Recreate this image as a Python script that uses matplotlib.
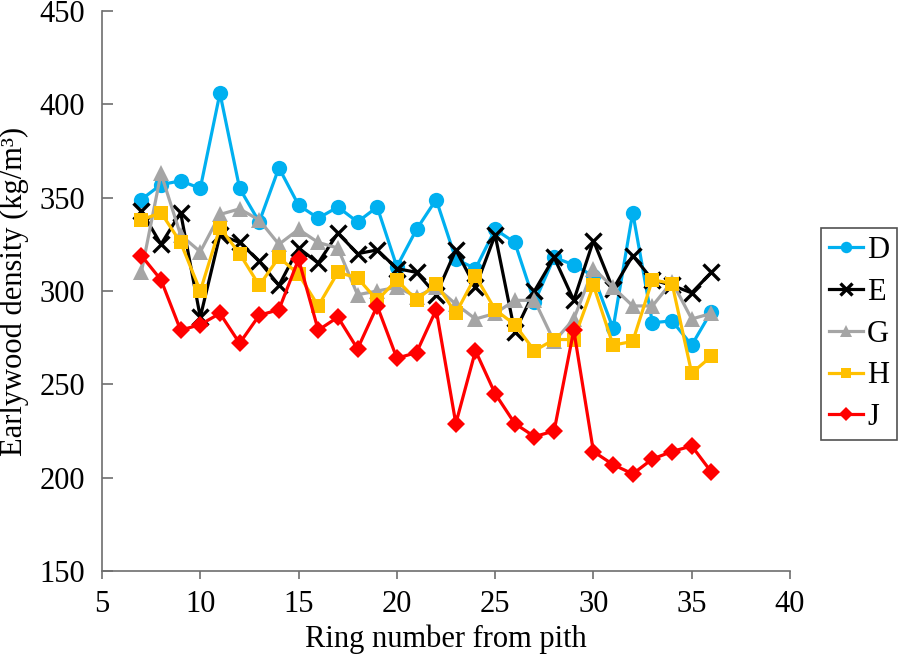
import matplotlib
matplotlib.use("Agg")
import matplotlib.pyplot as plt

rings = list(range(7, 37))
D = [349, 357, 359, 355, 406, 355, 337, 366, 346, 339, 345, 337, 345, 313, 333, 349,
     317, 312, 333, 326, 294, 318, 314, 308, 280, 342, 283, 284, 271, 289]
E = [343, 325, 342, 286, 330, 326, 316, 303, 323, 315, 331, 320, 322, 312, 310, 298,
     322, 302, 330, 278, 300, 318, 295, 327, 301, 319, 306, 303, 299, 310]
G = [310, 363, 330, 321, 341, 344, 338, 325, 333, 326, 323, 298, 300, 302, 297, 302,
     293, 285, 288, 295, 295, 273, 285, 312, 302, 292, 292, 305, 285, 288]
H = [338, 342, 326, 300, 334, 320, 303, 318, 309, 292, 310, 307, 295, 306, 295, 304,
     288, 308, 290, 282, 268, 274, 274, 303, 271, 273, 306, 304, 256, 265]
J = [319, 306, 279, 282, 288, 272, 287, 290, 317, 279, 286, 269, 292, 264, 267, 290,
     229, 268, 245, 229, 222, 225, 279, 214, 207, 202, 210, 214, 217, 203]

series = [
    ("D", D, "#00B0F0", "o", 11),
    ("E", E, "#000000", "x", 12),
    ("G", G, "#A5A5A5", "^", 11),
    ("H", H, "#FFC000", "s", 10),
    ("J", J, "#FF0000", "D", 9),
]

plt.rcParams['font.family'] = ['Liberation Serif', 'DejaVu Serif']

fig = plt.figure(figsize=(8.98, 6.57), dpi=100)
ax = fig.add_axes([102/898, 1-571/657, 688/898, 560/657])

handles = []
for name, vals, col, mk, ms in series:
    mew = 2.4 if mk == "x" else 0
    h, = ax.plot(rings, vals, color=col, lw=2.3, marker=mk, markersize=ms,
                 markeredgewidth=mew, markeredgecolor=col, markerfacecolor=col,
                 label=name)
    handles.append(h)

ax.set_xlim(5, 40)
ax.set_ylim(150, 450)
ax.set_xticks(range(5, 41, 5))
ax.set_yticks(range(150, 451, 50))
for s in ["top", "right"]:
    ax.spines[s].set_visible(False)
for s in ["left", "bottom"]:
    ax.spines[s].set_color("#6E6E6E")
    ax.spines[s].set_linewidth(1.2)
ax.tick_params(axis="both", direction="in", length=8, width=1.2, color="#6E6E6E",
               labelsize=22, pad=12)
ax.tick_params(axis="x", direction="out", length=6, pad=8)
ax.set_xlabel("Ring number from pith", fontsize=22, labelpad=4)
ax.set_ylabel("Earlywood density (kg/m³)", fontsize=22, labelpad=8)

leg = fig.legend(handles=handles, loc="center right", bbox_to_anchor=(897/898, 1-334/657),
                 frameon=True, fontsize=22, handlelength=1.1, handletextpad=0.15,
                 borderpad=0.25, labelspacing=0.42, fancybox=False, borderaxespad=0,
                 markerscale=0.75)
leg.get_frame().set_edgecolor("#262626")
leg.get_frame().set_linewidth(1.2)

fig.savefig("out.png", dpi=100)
